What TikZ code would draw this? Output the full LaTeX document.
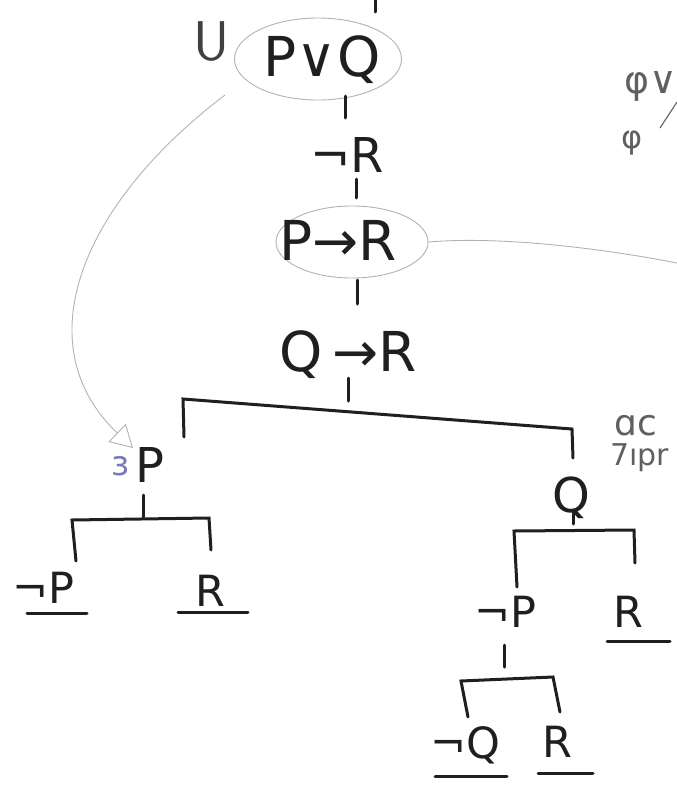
\documentclass[tikz,border=0pt]{standalone}
\usepackage{fontspec}
\setmainfont{DejaVu Sans}
\usetikzlibrary{shapes.geometric,arrows.meta,calc}
\tikzset{
  ink/.style={line width=3pt, line cap=round, black!88},
  pencil/.style={line width=0.9pt, gray!60},
  txt/.style={inner sep=0pt, text=black!88},
  big/.style={txt, font=\fontsize{55}{55}\selectfont},
  mid/.style={txt, font=\fontsize{48}{48}\selectfont},
  sml/.style={txt, font=\fontsize{43}{43}\selectfont},
  note/.style={inner sep=0pt, text=gray!75!black},
  ring/.style={ellipse, draw=gray!60, line width=0.9pt, inner sep=0pt}
}
\begin{document}
\begin{tikzpicture}[x=1pt,y=-1pt]
\useasboundingbox (0,0) rectangle (677,785);
% top stub
\coordinate (top0) at (375,0);
\coordinate (top1) at (375,12);
\draw[ink] (top0) -- (top1);
% margin notes
\node[note, text=black!75, font=\sffamily\fontsize{56}{56}\selectfont] (u) at (212,42) {U};
\node[note, font=\fontsize{38}{38}\selectfont, anchor=west] (phiv) at (624,86) {φ∨};
\node[note, font=\fontsize{32}{32}\selectfont] (phi) at (632,143) {φ};
\coordinate (sl1) at (660,128); \coordinate (sl2) at (677,102);
\draw[pencil, gray!75!black, line width=1.1pt] (sl1) -- (sl2);
\node[note, font=\fontsize{36}{36}\selectfont, anchor=west] (heb1) at (614,426) {ɑc};
\node[note, font=\fontsize{30}{30}\selectfont, anchor=west] (heb2) at (610,458) {7ıpr};
% trunk
\node[ring, minimum width=167pt, minimum height=82pt] (pqring) at (318,59) {};
\node[big] (pq) at (322,60) {P∨Q};
\node[big, font=\fontsize{48}{48}\selectfont] (nr) at (347,155) {¬R};
\node[ring, minimum width=152pt, minimum height=72pt] (prring) at (352,242) {};
\node[big] (pr) at (338,240) {P→R};
\node[big] (qr) at (348,355) {Q\,→R};
\draw[ink] (345,96) -- (345,118);
\draw[ink] (356,179) -- (356,198);
\draw[ink] (357,280) -- (357,304);
\draw[ink] (348,378) -- (348,401);
% main split
\draw[ink] (184,437) -- (183,399) -- (572,429) -- (573,458);
% left branch
\node[mid] (lp) at (150,465) {P};
\node[inner sep=0pt, text=gray!70!blue!80, font=\fontsize{34}{34}\selectfont] (mark) at (121,466) {ɜ};
\draw[ink] (143,495) -- (143,517);
\draw[ink] (76,561) -- (72,520) -- (209,518) -- (211,550);
\node[sml] (lnp) at (43,588) {¬P};
\node[sml] (lr) at (210,591) {R};
\draw[ink] ($(lnp.south)+(-16,10)$) -- ($(lnp.south)+(44,10)$);
\draw[ink] ($(lr.south)+(-32,6)$) -- ($(lr.south)+(38,6)$);
% right branch
\node[mid] (rq) at (571,498) {Q};
\draw[ink] (573,510) -- (573,524);
\draw[ink] (517,587) -- (514,531) -- (634,530) -- (635,563);
\node[sml] (rnp) at (505,612) {¬P};
\node[sml] (rr) at (628,612) {R};
\draw[ink] ($(rr.south)+(-21,14)$) -- ($(rr.south)+(42,14)$);
\draw[ink] (504,645) -- (504,667);
\draw[ink] (468,717) -- (461,681) -- (553,677) -- (560,712);
\node[sml] (rnq) at (465,745) {¬Q};
\node[sml] (rr2) at (557,742) {R};
\draw[ink] ($(rnq.south)+(-30,13)$) -- ($(rnq.south)+(42,13)$);
\draw[ink] ($(rr2.south)+(-19,16)$) -- ($(rr2.south)+(36,16)$);
% gray connectors
\coordinate (arrtip) at (133,448);
\draw[pencil, -{Triangle[open, length=22pt, width=25pt, line width=0.9pt]}] (225,95) .. controls (80,205) and (25,345) .. (arrtip);
\coordinate (redge) at (677,263);
\draw[pencil] (prring.east) .. controls (500,236) and (600,248) .. (redge);
\end{tikzpicture}
\end{document}
